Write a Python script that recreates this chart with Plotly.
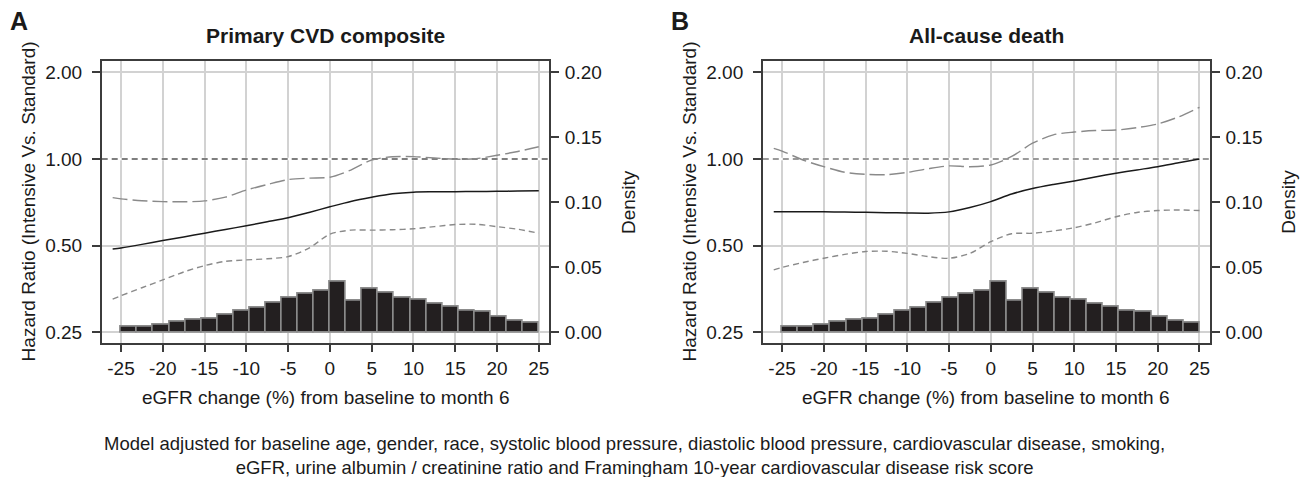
import numpy as np
import plotly.graph_objects as go

# ---------------- data ----------------
X_CURVE = [-26, -25, -22.5, -20, -17.5, -15, -12.5, -10, -7.5, -5, -2.5, 0,
           2.5, 5, 7.5, 10, 12.5, 15, 17.5, 20, 22.5, 25]

# Panel A: Primary CVD composite
A_HR = [0.487, 0.491, 0.505, 0.521, 0.536, 0.552, 0.569, 0.586, 0.605, 0.625, 0.652, 0.682,
        0.712, 0.736, 0.757, 0.767, 0.769, 0.770, 0.771, 0.772, 0.774, 0.776]
A_UPPER = [0.734, 0.727, 0.716, 0.711, 0.710, 0.715, 0.737, 0.780, 0.815, 0.848, 0.858, 0.864,
           0.915, 0.992, 1.018, 1.019, 1.008, 0.998, 1.002, 1.030, 1.062, 1.103]
A_LOWER = [0.326, 0.335, 0.357, 0.380, 0.405, 0.426, 0.441, 0.446, 0.450, 0.458, 0.490, 0.548,
           0.566, 0.566, 0.568, 0.572, 0.582, 0.592, 0.593, 0.582, 0.570, 0.552]

# Panel B: All-cause death
B_HR = [0.656, 0.656, 0.655, 0.655, 0.654, 0.653, 0.651, 0.649, 0.648, 0.655, 0.678, 0.711,
        0.756, 0.789, 0.815, 0.839, 0.866, 0.892, 0.916, 0.940, 0.970, 1.000]
B_UPPER = [1.089, 1.065, 0.992, 0.940, 0.899, 0.885, 0.882, 0.898, 0.925, 0.946, 0.940, 0.953,
           1.020, 1.134, 1.213, 1.240, 1.255, 1.260, 1.285, 1.323, 1.400, 1.512]
B_LOWER = [0.412, 0.420, 0.437, 0.452, 0.466, 0.477, 0.478, 0.470, 0.458, 0.452, 0.470, 0.516,
           0.550, 0.552, 0.562, 0.577, 0.600, 0.630, 0.652, 0.662, 0.665, 0.662]

# Histogram of eGFR change (density), 26 bins from -25 to 25
HIST_START, HIST_END = -25, 25
DENSITY = [0.0040, 0.0040, 0.0057, 0.0083, 0.0096, 0.0107, 0.0136, 0.0168, 0.0189, 0.0224,
           0.0266, 0.0297, 0.0323, 0.0387, 0.0246, 0.0339, 0.0305, 0.0268, 0.0251, 0.0222,
           0.0197, 0.0168, 0.0159, 0.0122, 0.0093, 0.0077]

X_TICKS = [-25, -20, -15, -10, -5, 0, 5, 10, 15, 20, 25]
X_TICKTEXT = ["-25", "-20", "-15", "-10", "-5", "0", "5", "10", "15", "20", "25"]
HR_TICKS = [0.25, 0.5, 1.0, 2.0]
HR_TICKTEXT = ["0.25", "0.50", "1.00", "2.00"]
DENS_TICKS = [0.0, 0.05, 0.10, 0.15, 0.20]
DENS_TICKTEXT = ["0.00", "0.05", "0.10", "0.15", "0.20"]
REF_HR = 1.0

TITLES = ["Primary CVD composite", "All-cause death"]
LETTERS = ["A", "B"]
X_TITLE = "eGFR change (%) from baseline to month 6"
Y_TITLE = "Hazard Ratio (Intensive Vs. Standard)"
Y2_TITLE = "Density"
FOOTNOTE = ("Model adjusted for baseline age, gender, race, systolic blood pressure, diastolic blood pressure, "
            "cardiovascular disease, smoking,<br>eGFR, urine albumin / creatinine ratio and Framingham "
            "10-year cardiovascular disease risk score")

# ---------------- layout constants ----------------
PAGE_W, PAGE_H = 1309, 477
BODY_MARGIN = 8                      # default HTML body margin offsets the plot div
W, H = PAGE_W - BODY_MARGIN, PAGE_H - BODY_MARGIN
X_RANGE = [-27.31, 26.26]
HR_RANGE_LOG = [-0.6382, 0.3413]
DENS_RANGE = [-0.0080, 0.2089]
PANEL_PX = [(101.7, 549.3), (762.8, 1210.0)]   # page pixel coordinates
TOP_PX, BOT_PX = 60.7, 342.7
FONT = "Liberation Sans, Arial, Helvetica, sans-serif"
TXT = "#1a1a1a"
GRID = "#d2d2d2"
FRAME = "#3c3c3c"


def px(x):
    return (x - BODY_MARGIN) / W


def py(y):
    return 1 - (y - BODY_MARGIN) / H


edges = np.linspace(HIST_START, HIST_END, len(DENSITY) + 1)
centers = (edges[:-1] + edges[1:]) / 2
width = edges[1] - edges[0]

fig = go.Figure()

panels = [(A_HR, A_UPPER, A_LOWER), (B_HR, B_UPPER, B_LOWER)]
for i, (hr, up, lo) in enumerate(panels):
    xa = "x" if i == 0 else "x2"
    ya_hr = "y" if i == 0 else "y3"
    ya_d = "y2" if i == 0 else "y4"
    # white line hides the HR=1 gridline, then dashed reference
    fig.add_trace(go.Scatter(x=X_RANGE, y=[REF_HR, REF_HR], mode="lines", xaxis=xa, yaxis=ya_hr,
                             line=dict(color="white", width=2.5), hoverinfo="skip", showlegend=False))
    fig.add_trace(go.Scatter(x=X_RANGE, y=[REF_HR, REF_HR], mode="lines", xaxis=xa, yaxis=ya_hr,
                             line=dict(color="#555555" if i == 0 else "#7a7a7a", width=1.4,
                                       dash="6px,4px"), showlegend=False))
    fig.add_trace(go.Scatter(x=X_CURVE, y=up, mode="lines", xaxis=xa, yaxis=ya_hr,
                             line=dict(color="#8a8a8a", width=1.4, dash="15px,5px", shape="spline",
                                       smoothing=0.8), showlegend=False))
    fig.add_trace(go.Scatter(x=X_CURVE, y=lo, mode="lines", xaxis=xa, yaxis=ya_hr,
                             line=dict(color="#8a8a8a", width=1.4, dash="6px,4px", shape="spline",
                                       smoothing=0.8), showlegend=False))
    fig.add_trace(go.Scatter(x=X_CURVE, y=hr, mode="lines", xaxis=xa, yaxis=ya_hr,
                             line=dict(color="#1a1a1a", width=1.5, shape="spline", smoothing=0.8),
                             showlegend=False))
    fig.add_trace(go.Bar(x=centers, y=DENSITY, width=width, xaxis=xa, yaxis=ya_d,
                         marker=dict(color="#231f20", line=dict(color="#8c8c8c", width=1.6)),
                         showlegend=False))

axis_common = dict(showline=True, linecolor=FRAME, linewidth=1.5, ticks="outside", ticklen=8,
                   tickwidth=1.5, tickcolor=FRAME, tickfont=dict(family=FONT, size=19, color=TXT),
                   zeroline=False)

layout = dict(width=W, height=H, margin=dict(l=0, r=0, t=0, b=0), paper_bgcolor="white",
              plot_bgcolor="white", showlegend=False, bargap=0)

ydom = [py(BOT_PX), py(TOP_PX)]
for i in range(2):
    l, r = PANEL_PX[i]
    xkey = "xaxis" if i == 0 else "xaxis2"
    ykey = "yaxis" if i == 0 else "yaxis3"
    y2key = "yaxis2" if i == 0 else "yaxis4"
    xname = "x" if i == 0 else "x2"
    yname = "y" if i == 0 else "y3"
    layout[xkey] = dict(axis_common, domain=[px(l), px(r)], range=X_RANGE, tickvals=X_TICKS,
                        ticktext=X_TICKTEXT, showgrid=True, gridcolor=GRID, gridwidth=1.5,
                        mirror=True, anchor=yname, ticklabelstandoff=0)
    layout[ykey] = dict(axis_common, domain=ydom, type="log", range=HR_RANGE_LOG, tickvals=HR_TICKS,
                        ticktext=HR_TICKTEXT, showgrid=True, gridcolor=GRID, gridwidth=1.5,
                        anchor=xname, side="left", ticklabelstandoff=6)
    layout[y2key] = dict(axis_common, domain=ydom, range=DENS_RANGE, tickvals=DENS_TICKS,
                         ticktext=DENS_TICKTEXT, showgrid=False, overlaying=yname, side="right",
                         anchor=xname, ticklabelstandoff=2)

fig.update_layout(**layout)

ann = []
for i in range(2):
    l, r = PANEL_PX[i]
    cx = (l + r) / 2
    cy = (TOP_PX + BOT_PX) / 2
    ann.append(dict(text="<b>%s</b>" % TITLES[i], x=px(cx), y=py(36), font=dict(size=21)))
    ann.append(dict(text="<b>%s</b>" % LETTERS[i], x=px(l - 83), y=py(21), font=dict(size=25)))
    ann.append(dict(text=X_TITLE, x=px(cx), y=py(397)))
    ann.append(dict(text=Y_TITLE, x=px(l - 73), y=py(cy), textangle=-90))
    ann.append(dict(text=Y2_TITLE, x=px(r + 79), y=py(cy), textangle=-90))
ann.append(dict(text=FOOTNOTE, x=px(634), y=py(455), font=dict(size=18.5)))

for a in ann:
    a.setdefault("font", {})
    a["font"] = dict(dict(family=FONT, size=19, color=TXT), **a["font"])
    a.update(xref="paper", yref="paper", showarrow=False, xanchor="center", yanchor="middle")
fig.update_layout(annotations=ann)

fig.write_html("out.html")
